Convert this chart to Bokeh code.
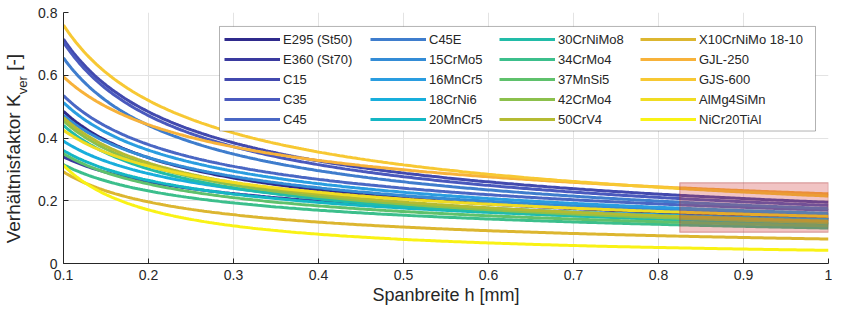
import numpy as np
from bokeh.plotting import figure
from bokeh.models import (Legend, LegendItem, BoxAnnotation, FixedTicker, Range1d, LinearAxis)
from bokeh.embed import file_html
from bokeh.resources import INLINE

# ---- data ----
materials = ["E295 (St50)", "E360 (St70)", "C15", "C35", "C45",
             "C45E", "15CrMo5", "16MnCr5", "18CrNi6", "20MnCr5",
             "30CrNiMo8", "34CrMo4", "37MnSi5", "42CrMo4", "50CrV4",
             "X10CrNiMo 18-10", "GJL-250", "GJS-600", "AlMg4SiMn", "NiCr20TiAl"]
colors = ["#2f2a8c", "#3a3a9f", "#4249ae", "#4a59bd", "#4a67c4",
          "#3f7dcd", "#348cd6", "#2a9de0", "#18aedc", "#14b6c4",
          "#22bca8", "#3cbf8c", "#5fc16c", "#8cc04c", "#b4bb32",
          "#dcb630", "#f7b23a", "#f7c833", "#f0dc22", "#f9f215"]
# K_ver at h = 0.1 mm and at h = 1.0 mm
k_at_h01 = [0.485, 0.340, 0.715, 0.705, 0.535,
            0.655, 0.472, 0.513, 0.390, 0.360,
            0.440, 0.315, 0.350, 0.455, 0.465,
            0.292, 0.595, 0.760, 0.425, 0.313]
k_at_h1 = [0.145, 0.140, 0.195, 0.185, 0.170,
           0.175, 0.155, 0.160, 0.140, 0.130,
           0.125, 0.113, 0.120, 0.130, 0.135,
           0.078, 0.222, 0.215, 0.150, 0.042]
x_ticks = [0.1, 0.2, 0.3, 0.4, 0.5, 0.6, 0.7, 0.8, 0.9, 1.0]
x_tick_labels = ["0.1", "0.2", "0.3", "0.4", "0.5", "0.6", "0.7", "0.8", "0.9", "1"]
y_ticks = [0.0, 0.2, 0.4, 0.6, 0.8]
y_tick_labels = ["0", "0.2", "0.4", "0.6", "0.8"]
highlight = dict(left=0.825, right=1.0, bottom=0.10, top=0.257)

FONT = "Liberation Sans"
TXT = "#262626"
W, H = 832, 307
BL, BR, BT, BB = 63, 4, 12, 43
FX0, FX1 = BL, W - BR          # frame in figure px
FY0, FY1 = BT, H - BB
XMIN, XMAX, YMIN, YMAX = 0.1, 1.0, 0.0, 0.8

def dx(px):
    return XMIN + (px - FX0) * (XMAX - XMIN) / (FX1 - FX0)

def dy(py):
    return YMIN + (FY1 - py) * (YMAX - YMIN) / (FY1 - FY0)

p = figure(width=W, height=H, output_backend="svg", toolbar_location=None,
           x_range=Range1d(XMIN, XMAX), y_range=Range1d(YMIN, YMAX),
           min_border_left=BL, min_border_right=BR, min_border_top=BT, min_border_bottom=BB)
p.outline_line_color = None
p.background_fill_color = "white"

h = np.linspace(0.1, 1.0, 300)
renderers = []
for name, c, k0, k1 in zip(materials, colors, k_at_h01, k_at_h1):
    b = np.log10(k0 / k1)
    r = p.line(h, k1 * h ** (-b), line_color=c, line_width=3)
    renderers.append(r)

# axes styling
for ax in (p.xaxis[0], p.yaxis[0]):
    ax.axis_line_color = TXT
    ax.major_tick_line_color = TXT
    ax.major_tick_in = 5
    ax.major_tick_out = 0
    ax.minor_tick_line_color = None
    ax.major_label_text_font = FONT
    ax.major_label_text_font_size = "14px"
    ax.major_label_text_color = TXT
p.xaxis.ticker = FixedTicker(ticks=x_ticks)
p.yaxis.ticker = FixedTicker(ticks=y_ticks)
p.xaxis.major_label_overrides = {t: l for t, l in zip(x_ticks, x_tick_labels)}
p.yaxis.major_label_overrides = {t: l for t, l in zip(y_ticks, y_tick_labels)}
p.xaxis.major_label_standoff = 6
p.yaxis.major_label_standoff = 6
p.xaxis.axis_label = "Spanbreite h [mm]"
p.xaxis.axis_label_text_font = FONT
p.xaxis.axis_label_text_font_size = "18px"
p.xaxis.axis_label_text_font_style = "normal"
p.xaxis.axis_label_text_color = TXT
p.xaxis.axis_label_standoff = 2
p.yaxis.axis_label = None
p.xgrid.ticker = FixedTicker(ticks=x_ticks)
p.ygrid.ticker = FixedTicker(ticks=y_ticks)
p.grid.grid_line_color = "#e3e3e3"

# y-axis title built from label-only axes (main text + subscript)
def label_axis(pos_text, size, standoff):
    pos = [dy(py) for py, _ in pos_text]
    ax = LinearAxis(ticker=FixedTicker(ticks=pos),
                    major_label_overrides={v: t for v, (_, t) in zip(pos, pos_text)},
                    major_label_orientation="vertical",
                    major_label_text_font=FONT, major_label_text_font_size=size,
                    major_label_text_color=TXT, major_label_standoff=standoff,
                    axis_line_color=None, major_tick_line_color=None, minor_tick_line_color=None,
                    major_tick_in=0, major_tick_out=0)
    return ax

# centres (figure px) of the text pieces
sub_axis = label_axis([(85, "ver")], "13px", 5)
main_axis = label_axis([(169, "Verhältnisfaktor K"), (62, "[-]")], "19px", -12)
p.add_layout(sub_axis, "left")
p.add_layout(main_axis, "left")

# highlight box
p.add_layout(BoxAnnotation(fill_color="#d23c3c", fill_alpha=0.3, line_color="#a83232",
                           line_width=1.5, **highlight))

# legend box
LX0, LX1, LY0, LY1 = 219, 815, 26, 131
p.add_layout(BoxAnnotation(left=dx(LX0), right=dx(LX1), top=dy(LY0), bottom=dy(LY1),
                           fill_color="white", fill_alpha=1.0, line_color="black", line_width=1))
col_x = [224, 370, 499, 640]
for ci in range(4):
    items = [LegendItem(label=materials[i], renderers=[renderers[i]]) for i in range(ci * 5, ci * 5 + 5)]
    lg = Legend(items=items, location=(col_x[ci] - FX0, FY1 - 129), orientation="vertical",
                glyph_width=56, glyph_height=18, label_height=18, spacing=2,
                padding=0, margin=0, label_standoff=3,
                label_text_font=FONT, label_text_font_size="13px", label_text_color=TXT,
                border_line_color=None, background_fill_alpha=0)
    p.add_layout(lg, "center")

open("out.html", "w").write(file_html(p, INLINE))
